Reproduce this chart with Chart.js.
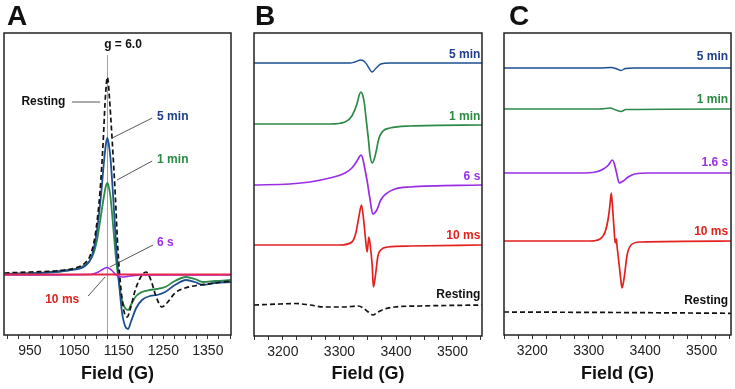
<!DOCTYPE html>
<html>
<head>
<meta charset="utf-8">
<script src="https://cdn.jsdelivr.net/npm/chart.js@4.4.1/dist/chart.umd.min.js"></script>
<style>
  body { margin: 0 ; background: #fff ; }
  #wrap { position: relative ; width: 735px ; height: 389px ; overflow: hidden ; }
  .panel { position: absolute ; top: 0 ; width: 245px ; height: 389px ; }
  .letter { position: absolute ; top: 0 ; line-height: 28px ;
            font: bold 28px "Liberation Sans", Arial, sans-serif ; color: #111 ; }
</style>
</head>
<body>
<div id="wrap">
  <div class="panel" style="left:0px"><canvas id="chartA" width="245" height="389"></canvas></div>
  <div class="panel" style="left:245px"><canvas id="chartB" width="245" height="389"></canvas></div>
  <div class="panel" style="left:490px"><canvas id="chartC" width="245" height="389"></canvas></div>
  <div class="letter" style="left:7px">A</div>
  <div class="letter" style="left:255px">B</div>
  <div class="letter" style="left:509px">C</div>
</div>
<script>
// ---------------- Data : panel A (g = 6 region) --------------------------
// field in gauss, signal in arbitrary units (stacked offset included)
const A_MAIN_FIELD = [ 893, 973, 1041, 1074, 1090, 1101, 1110, 1117, 1121, 1124, 1127, 1131, 1137, 1144, 1151, 1157,
                       1164, 1171, 1177, 1189, 1202, 1220, 1236, 1254, 1276, 1301, 1321, 1339, 1366, 1402 ] ;
const A_5MIN = [ 61, 62, 65, 69, 80, 105, 140, 175, 191, 197, 192, 178, 140, 90, 50, 23,
                 9, 6, 13, 27, 35, 39, 40, 43, 50, 55, 53, 50, 52, 53 ] ;
const A_1MIN = [ 61, 62, 65, 70, 78, 95, 120, 140, 149, 152, 149, 139, 110, 75, 50, 35,
                 27, 25, 30, 39, 43, 45, 46, 48, 54, 58, 56, 53, 54, 55 ] ;

const A_REST_FIELD = [ 893, 951, 1018, 1052, 1074, 1086, 1097, 1108, 1115, 1119, 1122, 1124, 1126, 1128, 1135, 1142, 1148, 1155,
                       1162, 1169, 1175, 1187, 1198, 1211, 1222, 1234, 1247, 1260, 1276, 1299, 1332, 1366, 1402 ] ;
const A_REST = [ 62, 63, 64.5, 67, 72, 80, 100, 145, 195, 232, 251, 258, 254, 243, 195, 140, 85, 45,
                 23, 18, 25, 45, 57, 63, 55, 38, 28, 33, 42, 47, 50, 52, 54 ] ;

const A_6S_FIELD = [ 893, 1086, 1104, 1115, 1124, 1133, 1144, 1157, 1175, 1198, 1402 ] ;
const A_6S = [ 60, 60.5, 63, 66, 67.5, 65, 60, 58, 59, 60, 60 ] ;

const A_10MS_FIELD = [ 893, 1402 ] ;
const A_10MS = [ 60.5, 60.5 ] ;

// ---------------- Data : panel B (g = 2 region) --------------------------
const B_5MIN_FIELD = [ 3149, 3265, 3319, 3327, 3338, 3345, 3350, 3358, 3365, 3373, 3389, 3552 ] ;
const B_5MIN = [ 273, 273, 273, 274, 276, 274, 270, 264, 268, 272, 273, 273 ] ;

const B_1MIN_FIELD = [ 3149, 3283, 3310, 3322, 3331, 3335, 3338, 3341, 3344, 3347, 3351, 3354, 3358, 3363, 3370, 3377, 3389, 3425, 3552 ] ;
const B_1MIN = [ 212, 212, 214, 220, 232, 241, 244, 241, 233, 218, 198, 181, 173, 180, 198, 205, 208, 210, 211 ] ;

const B_6S_FIELD = [ 3149, 3212, 3248, 3283, 3310, 3322, 3331, 3335, 3338, 3341, 3344, 3349, 3354, 3359, 3366, 3373, 3382, 3398, 3425, 3552 ] ;
const B_6S = [ 151, 152, 154, 158, 163, 168, 175, 179, 181, 178, 170, 155, 137, 122, 126, 136, 142, 147, 149, 151 ] ;

const B_10MS_FIELD = [ 3149, 3301, 3322, 3329, 3334, 3339, 3343, 3347, 3349, 3352, 3355, 3358, 3360, 3364, 3368, 3373, 3386, 3425, 3552 ] ;
const B_10MS = [ 91, 91, 94, 103, 118, 131, 115, 92, 84, 99, 88, 70, 49, 62, 80, 86, 89, 90, 91 ] ;

const B_REST_FIELD = [ 3149, 3195, 3221, 3248, 3274, 3310, 3333, 3342, 3351, 3359, 3368, 3380, 3398, 3443, 3552 ] ;
const B_REST = [ 31, 32, 32.5, 31, 29, 29, 30, 28, 24, 21, 24, 27, 29, 30, 31 ] ;

// ---------------- Data : panel C -----------------------------------------
const C_5MIN_FIELD = [ 3150, 3320, 3340, 3350, 3357, 3365, 3380, 3552 ] ;
const C_5MIN = [ 267, 267, 267.5, 266, 264.5, 266.5, 267, 267 ] ;

const C_1MIN_FIELD = [ 3150, 3320, 3338, 3348, 3357, 3366, 3552 ] ;
const C_1MIN = [ 226, 226, 227, 225, 223.5, 225.5, 226 ] ;

const C_16S_FIELD = [ 3150, 3285, 3312, 3326, 3335, 3342, 3345, 3349, 3354, 3361, 3370, 3382, 3409, 3552 ] ;
const C_16S = [ 162, 162, 163, 166, 170, 175, 172, 163, 152, 154, 158, 161, 162, 162 ] ;

const C_10MS_FIELD = [ 3150, 3303, 3320, 3329, 3335, 3338, 3340, 3342, 3345, 3347, 3349, 3350, 3354, 3358, 3359, 3363, 3368, 3375, 3391, 3552 ] ;
const C_10MS = [ 94, 94, 96, 103, 118, 132, 142, 130, 105, 92, 96, 90, 70, 50, 47, 58, 80, 90, 93, 94 ] ;

const C_REST_FIELD = [ 3150, 3350, 3552 ] ;
const C_REST = [ 23, 22.5, 21.7 ] ;

// ---------------- Tick values / labels -----------------------------------
const A_TICKS = [ 900, 925, 950, 975, 1000, 1025, 1050, 1075, 1100, 1125, 1150, 1175, 1200,
                  1225, 1250, 1275, 1300, 1325, 1350, 1375, 1400 ] ;
const A_TICK_LABELS = [ 950, 1050, 1150, 1250, 1350 ] ;
const BC_TICKS = [ 3150, 3175, 3200, 3225, 3250, 3275, 3300, 3325, 3350, 3375, 3400,
                   3425, 3450, 3475, 3500, 3525, 3550 ] ;
const BC_TICK_LABELS = [ 3200, 3300, 3400, 3500 ] ;

// ---------------- Styles -------------------------------------------------
const FONT = '"Liberation Sans", Arial, Helvetica, sans-serif' ;
const BLUE = '#1d4f91' ;
const GREEN = '#2b8a47' ;
const PURPLE = '#9a2ee6' ;
const RED = '#e3211f' ;
const BLACK = '#111111' ;

function toPoints( xs, ys ) {
    return xs.map( function( x, i ) { return { x : x, y : ys[i] } ; } ) ;
}

function line( xs, ys, color, width, dashed ) {
    return {
        data : toPoints( xs, ys ),
        borderColor : color,
        backgroundColor : color,
        borderWidth : width,
        borderDash : dashed ? [ 5, 3 ] : [],
        pointRadius : 0,
        cubicInterpolationMode : 'monotone',
        fill : false
    } ;
}

// ---------------- Decoration plugin (frame, labels, leaders) -------------
const panelDeco = {
    id : 'panelDeco',
    beforeDatasetsDraw : function( chart, args, opts ) {
        if( !opts.guide ) return ;
        const ctx = chart.ctx, xs = chart.scales.x, ys = chart.scales.y ;
        const px = xs.getPixelForValue( opts.guide.x ) ;
        ctx.save() ;
        ctx.strokeStyle = '#8a8a8a' ;
        ctx.lineWidth = 0.8 ;
        ctx.beginPath() ;
        ctx.moveTo( px, ys.getPixelForValue( opts.guide.y1 ) ) ;
        ctx.lineTo( px, ys.getPixelForValue( opts.guide.y2 ) ) ;
        ctx.stroke() ;
        ctx.restore() ;
    },
    afterDatasetsDraw : function( chart, args, opts ) {
        const ctx = chart.ctx, xs = chart.scales.x, ys = chart.scales.y ;
        ctx.save() ;
        ( opts.leaders || [] ).forEach( function( l ) {
            ctx.strokeStyle = '#444' ;
            ctx.lineWidth = 0.9 ;
            ctx.beginPath() ;
            ctx.moveTo( xs.getPixelForValue( l[0] ), ys.getPixelForValue( l[1] ) ) ;
            ctx.lineTo( xs.getPixelForValue( l[2] ), ys.getPixelForValue( l[3] ) ) ;
            ctx.stroke() ;
        } ) ;
        ( opts.labels || [] ).forEach( function( t ) {
            ctx.font = 'bold 12px ' + FONT ;
            ctx.fillStyle = t.color ;
            ctx.textAlign = t.align ;
            ctx.textBaseline = 'middle' ;
            ctx.fillText( t.text, xs.getPixelForValue( t.x ), ys.getPixelForValue( t.y ) ) ;
        } ) ;
        ctx.restore() ;
    },
    afterDraw : function( chart ) {
        const a = chart.chartArea, ctx = chart.ctx ;
        ctx.save() ;
        ctx.strokeStyle = '#222' ;
        ctx.lineWidth = 1.5 ;
        ctx.strokeRect( a.left, a.top, a.right - a.left, a.bottom - a.top ) ;
        ctx.restore() ;
    }
} ;

function makeChart( canvasId, datasets, xr, yMax, ticks, tickLabels, pad, axisH, deco ) {
    return new Chart( document.getElementById( canvasId ), {
        type : 'line',
        data : { datasets : datasets },
        plugins : [ panelDeco ],
        options : {
            responsive : false,
            animation : false,
            events : [],
            layout : { padding : pad },
            plugins : {
                legend : { display : false },
                tooltip : { enabled : false },
                panelDeco : deco
            },
            scales : {
                x : {
                    type : 'linear',
                    min : xr[0],
                    max : xr[1],
                    afterBuildTicks : function( s ) {
                        s.ticks = ticks.map( function( v ) { return { value : v } ; } ) ;
                    },
                    afterFit : function( s ) { s.height = axisH ; },
                    ticks : {
                        autoSkip : false,
                        maxRotation : 0,
                        padding : 4,
                        color : '#222',
                        font : { family : FONT, size : 14 },
                        callback : function( v ) {
                            return tickLabels.indexOf( v ) >= 0 ? String( v ) : '' ;
                        }
                    },
                    grid : {
                        display : true,
                        drawOnChartArea : false,
                        drawTicks : true,
                        tickLength : 4,
                        color : '#333',
                        lineWidth : 1
                    },
                    border : { display : false },
                    title : {
                        display : true,
                        text : 'Field (G)',
                        color : '#111',
                        font : { family : FONT, size : 18, weight : 'bold' },
                        padding : { top : 0, bottom : 4 }
                    }
                },
                y : {
                    display : false,
                    min : 0,
                    max : yMax
                }
            }
        }
    } ) ;
}

// ---------------- Panel A ------------------------------------------------
makeChart( 'chartA', [
        line( A_10MS_FIELD, A_10MS, '#e5264f', 2.2, false ),
        line( A_6S_FIELD, A_6S, PURPLE, 1.6, false ),
        line( A_REST_FIELD, A_REST, BLACK, 1.7, true ),
        line( A_MAIN_FIELD, A_5MIN, BLUE, 1.8, false ),
        line( A_MAIN_FIELD, A_1MIN, GREEN, 1.8, false )
    ], [ 892, 1402 ], 302, A_TICKS, A_TICK_LABELS,
    { left : 4, right : 14, top : 33, bottom : 0 }, 54,
    {
        guide : { x : 1124.5, y1 : 280, y2 : 0 },
        leaders : [
            [ 1045, 233, 1108, 233 ],
            [ 1135, 197, 1225, 217 ],
            [ 1146, 155, 1225, 174 ],
            [ 1130, 68, 1227, 90 ],
            [ 1081, 39, 1119, 58 ]
        ],
        labels : [
            { text : 'g = 6.0', x : 1117, y : 290, align : 'left', color : '#111' },
            { text : 'Resting', x : 1030, y : 233, align : 'right', color : '#111' },
            { text : '5 min', x : 1236, y : 218, align : 'left', color : '#1f3d8a' },
            { text : '1 min', x : 1236, y : 175, align : 'left', color : '#2a8a40' },
            { text : '6 s', x : 1236, y : 92, align : 'left', color : '#9b30e8' },
            { text : '10 ms', x : 1061, y : 35, align : 'right', color : '#e2231d' }
        ]
    } ) ;

// ---------------- Panel B ------------------------------------------------
makeChart( 'chartB', [
        line( B_5MIN_FIELD, B_5MIN, BLUE, 1.4, false ),
        line( B_1MIN_FIELD, B_1MIN, GREEN, 1.7, false ),
        line( B_6S_FIELD, B_6S, PURPLE, 1.7, false ),
        line( B_10MS_FIELD, B_10MS, RED, 1.7, false ),
        line( B_REST_FIELD, B_REST, BLACK, 1.7, true )
    ], [ 3149, 3552 ], 303, BC_TICKS, BC_TICK_LABELS,
    { left : 9, right : 8, top : 33, bottom : 0 }, 53,
    {
        labels : [
            { text : '5 min', x : 3549, y : 281, align : 'right', color : '#1f3d8a' },
            { text : '1 min', x : 3549, y : 219, align : 'right', color : '#2a8a40' },
            { text : '6 s', x : 3549, y : 159, align : 'right', color : '#9b30e8' },
            { text : '10 ms', x : 3549, y : 100, align : 'right', color : '#e2231d' },
            { text : 'Resting', x : 3549, y : 41, align : 'right', color : '#111' }
        ]
    } ) ;

// ---------------- Panel C ------------------------------------------------
makeChart( 'chartC', [
        line( C_5MIN_FIELD, C_5MIN, BLUE, 1.4, false ),
        line( C_1MIN_FIELD, C_1MIN, GREEN, 1.6, false ),
        line( C_16S_FIELD, C_16S, PURPLE, 1.7, false ),
        line( C_10MS_FIELD, C_10MS, RED, 1.7, false ),
        line( C_REST_FIELD, C_REST, BLACK, 1.7, true )
    ], [ 3150, 3552 ], 302, BC_TICKS, BC_TICK_LABELS,
    { left : 14, right : 4, top : 33, bottom : 0 }, 54,
    {
        labels : [
            { text : '5 min', x : 3547, y : 278, align : 'right', color : '#1f3d8a' },
            { text : '1 min', x : 3547, y : 235, align : 'right', color : '#2a8a40' },
            { text : '1.6 s', x : 3547, y : 172, align : 'right', color : '#9b30e8' },
            { text : '10 ms', x : 3547, y : 103, align : 'right', color : '#e2231d' },
            { text : 'Resting', x : 3547, y : 34, align : 'right', color : '#111' }
        ]
    } ) ;
</script>
</body>
</html>
